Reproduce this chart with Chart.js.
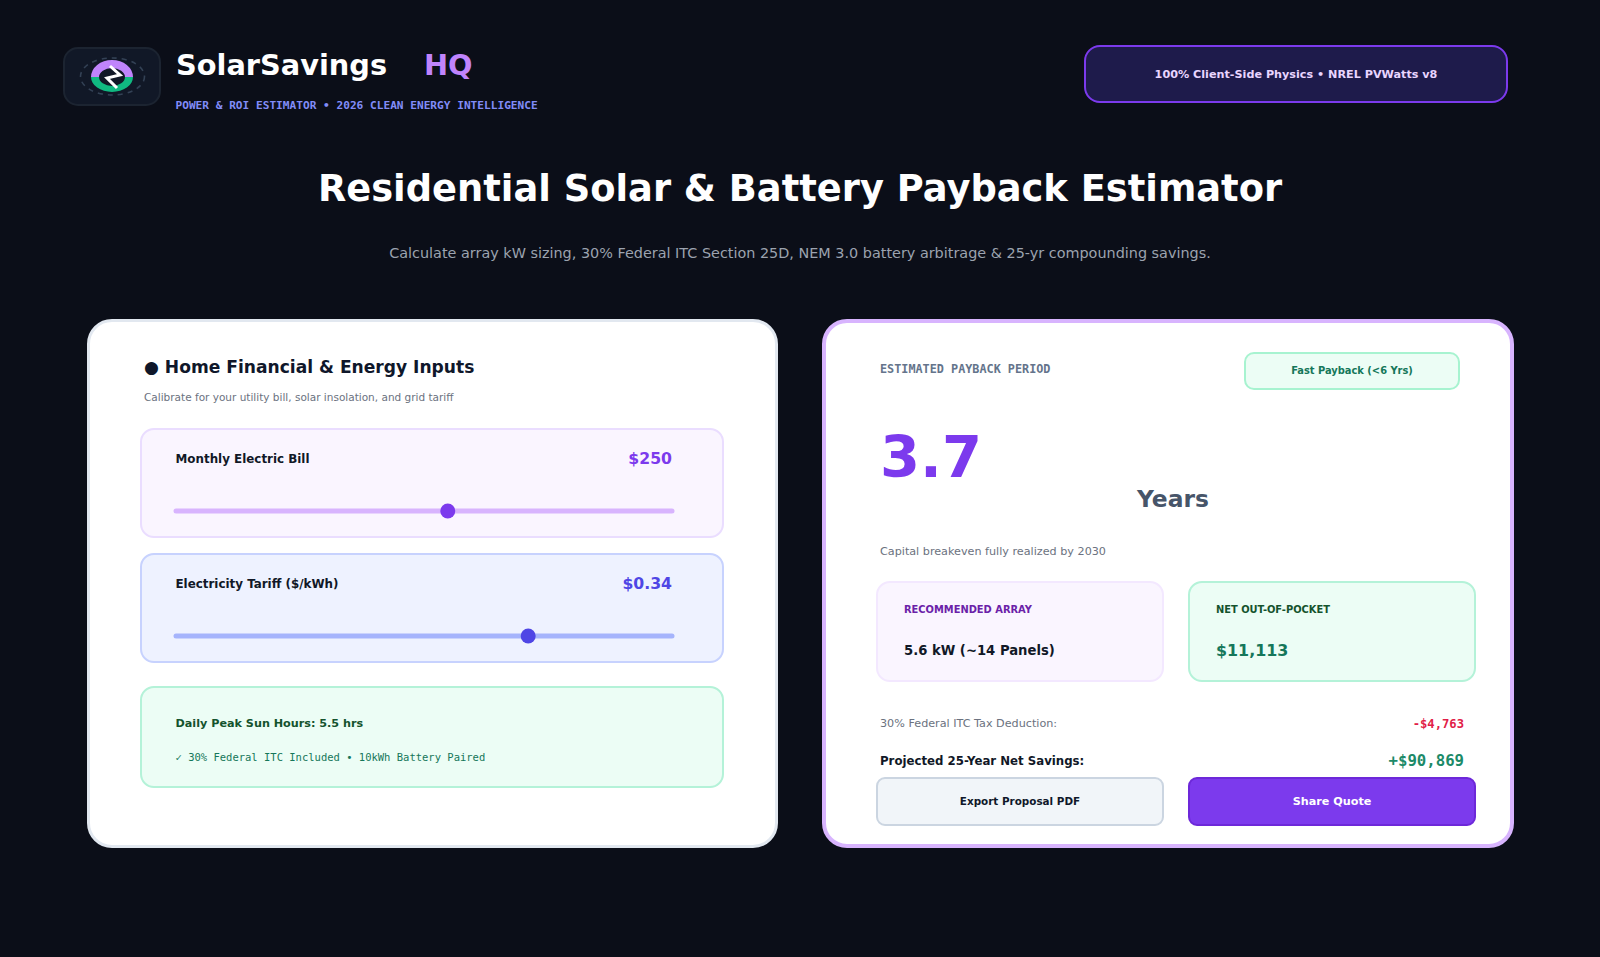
<!DOCTYPE html>
<html lang="en">
<head>
    <meta charset="UTF-8">
    <title>SolarSavings HQ - Payback Estimator</title>
    <script src="https://cdn.jsdelivr.net/npm/chart.js"></script>
    <style>
        html, body { margin: 0; padding: 0; }
        body {
            width: 1600px;
            height: 957px;
            overflow: hidden;
            position: relative;
            background-color: #0b0e18;
            font-family: "DejaVu Sans", sans-serif;
        }
        .box { position: absolute; box-sizing: border-box; }
        .t {
            position: absolute;
            white-space: nowrap;
            line-height: 1;
            transform: translateY(-50%);
        }
        .r { transform: translate(-100%, -50%); }
        .c { transform: translate(-50%, -50%); }
        .b { font-weight: bold; }
        .m { font-family: "DejaVu Sans Mono", monospace; }
        canvas.slider { position: absolute; }
        .card { background: #fff; border-radius: 25px; }
        .panel { border-radius: 14px; border: 2px solid; }
    </style>
</head>
<body>

    <!-- header -->
    <div class="box" style="left:63px;top:47px;width:98px;height:59px;background:#111827;border:2px solid #1c2431;border-radius:15px"></div>
    <svg class="box" style="left:78px;top:55px" width="68" height="44" viewBox="0 0 68 44">
        <ellipse cx="34.5" cy="21.5" rx="32" ry="18.5" fill="none" stroke="#334155" stroke-width="1.6" stroke-dasharray="5 5"/>
        <path d="M13 22 A21 17 0 0 1 55 22 L47 22 A13 9 0 0 0 21 22 Z" fill="#c084fc"/>
        <path d="M13 22 A21 15 0 0 0 55 22 L47 22 A13 9 0 0 1 21 22 Z" fill="#10b981"/>
        <path d="M32 11 L42 20 L29 23 L39 33" fill="none" stroke="#fff" stroke-width="3"/>
    </svg>
    <div class="t b" style="left:176px;top:64.5px;font-size:28.8px;color:#fff">SolarSavings</div>
    <div class="t b" style="left:424px;top:64.5px;font-size:28.8px;color:#c084fc">HQ</div>
    <div class="t b m" style="left:175.5px;top:106px;font-size:11.15px;color:#818cf8">POWER &amp; ROI ESTIMATOR • 2026 CLEAN ENERGY INTELLIGENCE</div>
    <div class="box" style="left:1084px;top:45px;width:424px;height:58px;background:#1e1b4b;border:2px solid #7c3aed;border-radius:16px"></div>
    <div class="t c b" style="left:1296px;top:74.5px;font-size:11.2px;color:#e9d5ff">100% Client-Side Physics • NREL PVWatts v8</div>

    <div class="t c b" style="left:800px;top:189px;font-size:36.8px;color:#fff">Residential Solar &amp; Battery Payback Estimator</div>
    <div class="t c" style="left:800px;top:253px;font-size:14.4px;color:#9ca3af">Calculate array kW sizing, 30% Federal ITC Section 25D, NEM 3.0 battery arbitrage &amp; 25-yr compounding savings.</div>

    <!-- left card -->
    <div class="box card" style="left:87px;top:319px;width:691px;height:529px;border:3px solid #e2e8f0"></div>
    <div class="t b" style="left:144px;top:368px;font-size:17.1px;color:#0f172a">● Home Financial &amp; Energy Inputs</div>
    <div class="t" style="left:144px;top:397px;font-size:10.5px;color:#6b7280">Calibrate for your utility bill, solar insolation, and grid tariff</div>

    <div class="box panel" style="left:140px;top:428px;width:584px;height:110px;background:#faf5ff;border-color:#eaddff"></div>
    <div class="t b" style="left:175.5px;top:460px;font-size:11.9px;color:#111827">Monthly Electric Bill</div>
    <div class="t r b" style="left:672px;top:459px;font-size:15.7px;color:#7c3aed">$250</div>
    <canvas class="slider" id="billSlider" width="516" height="24" style="left:166px;top:499px"></canvas>

    <div class="box panel" style="left:140px;top:552.5px;width:584px;height:110.5px;background:#eef2ff;border-color:#c7d2fe"></div>
    <div class="t b" style="left:175.5px;top:585px;font-size:11.9px;color:#111827">Electricity Tariff ($/kWh)</div>
    <div class="t r b" style="left:672px;top:583.5px;font-size:15.7px;color:#4f46e5">$0.34</div>
    <canvas class="slider" id="tariffSlider" width="516" height="24" style="left:166px;top:624px"></canvas>

    <div class="box panel" style="left:140px;top:686px;width:584px;height:101.5px;background:#ecfdf5;border-color:#b4f2d8"></div>
    <div class="t b" style="left:175.5px;top:724px;font-size:11.2px;color:#14532d">Daily Peak Sun Hours: 5.5 hrs</div>
    <div class="t m" style="left:175.5px;top:756.5px;font-size:10.5px;color:#15775a">✓ 30% Federal ITC Included • 10kWh Battery Paired</div>

    <!-- right card -->
    <div class="box card" style="left:822px;top:319px;width:692px;height:529px;border:4px solid #d8b4fe"></div>
    <div class="t b m" style="left:880px;top:370px;font-size:11.8px;color:#64748b">ESTIMATED PAYBACK PERIOD</div>
    <div class="box" style="left:1244px;top:352px;width:216px;height:38px;background:#ecfdf5;border:2px solid #a7f3d0;border-radius:10px"></div>
    <div class="t c b" style="left:1352px;top:371px;font-size:9.9px;color:#15775a">Fast Payback (&lt;6 Yrs)</div>
    <div class="t b" style="left:880px;top:458px;font-size:57.6px;color:#7c3aed">3.7</div>
    <div class="t b" style="left:1137px;top:499.5px;font-size:23.4px;color:#475569">Years</div>
    <div class="t" style="left:880px;top:551.5px;font-size:11.2px;color:#6b7280">Capital breakeven fully realized by 2030</div>

    <div class="box panel" style="left:876px;top:581px;width:288px;height:101px;background:#faf5ff;border-color:#f3e8ff"></div>
    <div class="t b" style="left:904px;top:610px;font-size:9.9px;color:#6b21a8">RECOMMENDED ARRAY</div>
    <div class="t b" style="left:904px;top:650.5px;font-size:13.2px;color:#111827">5.6 kW (~14 Panels)</div>
    <div class="box panel" style="left:1188px;top:581px;width:288px;height:101px;background:#ecfdf5;border-color:#b4f2d8"></div>
    <div class="t b" style="left:1216px;top:610px;font-size:9.9px;color:#14532d">NET OUT-OF-POCKET</div>
    <div class="t b" style="left:1216px;top:651px;font-size:15.9px;color:#15775a">$11,113</div>

    <div class="t" style="left:880px;top:724px;font-size:11.2px;color:#6b7280">30% Federal ITC Tax Deduction:</div>
    <div class="t r b m" style="left:1464px;top:723.5px;font-size:12.2px;color:#e11d48">-$4,763</div>
    <div class="t b" style="left:880px;top:762px;font-size:11.76px;color:#111827">Projected 25-Year Net Savings:</div>
    <div class="t r b m" style="left:1464px;top:760.5px;font-size:15.68px;color:#1c8a68">+$90,869</div>

    <div class="box panel" style="left:876px;top:777px;width:288px;height:49px;background:#f1f5f9;border-color:#cbd5e1;border-radius:9px"></div>
    <div class="t c b" style="left:1020px;top:801px;font-size:10.4px;color:#0f172a">Export Proposal PDF</div>
    <div class="box panel" style="left:1188px;top:777px;width:288px;height:49px;background:#7c3aed;border-color:#6d28d9;border-radius:9px"></div>
    <div class="t c b" style="left:1332px;top:801.5px;font-size:11.2px;color:#fff">Share Quote</div>

    <script>
        // slider values, axis ends
        const billRange = [50, 415];
        const billValue = [250];
        const tariffRange = [0.10, 0.438];
        const tariffValue = [0.34];

        function drawSlider(id, range, values, trackColor, thumbColor) {
            new Chart(document.getElementById(id).getContext('2d'), {
                type: 'scatter',
                data: {
                    datasets: [
                        {
                            // first dataset is painted last, so the thumb sits on the track
                            data: values.map(v => ({ x: v, y: 0 })),
                            backgroundColor: thumbColor,
                            borderWidth: 0,
                            pointRadius: 7.5,
                            clip: false
                        },
                        {
                            data: range.map(v => ({ x: v, y: 0 })),
                            showLine: true,
                            borderColor: trackColor,
                            borderWidth: 5,
                            borderCapStyle: 'round',
                            pointRadius: 0,
                            clip: false
                        }
                    ]
                },
                options: {
                    responsive: false,
                    animation: false,
                    layout: { padding: { left: 10, right: 10, top: 0, bottom: 0 } },
                    plugins: { legend: { display: false }, tooltip: { enabled: false } },
                    scales: {
                        x: { type: 'linear', display: false, min: range[0], max: range[1] },
                        y: { display: false, min: -1, max: 1 }
                    }
                }
            });
        }

        drawSlider('billSlider', billRange, billValue, '#d8b4fe', '#7c3aed');
        drawSlider('tariffSlider', tariffRange, tariffValue, '#a5b4fc', '#4f46e5');
    </script>

</body>
</html>
